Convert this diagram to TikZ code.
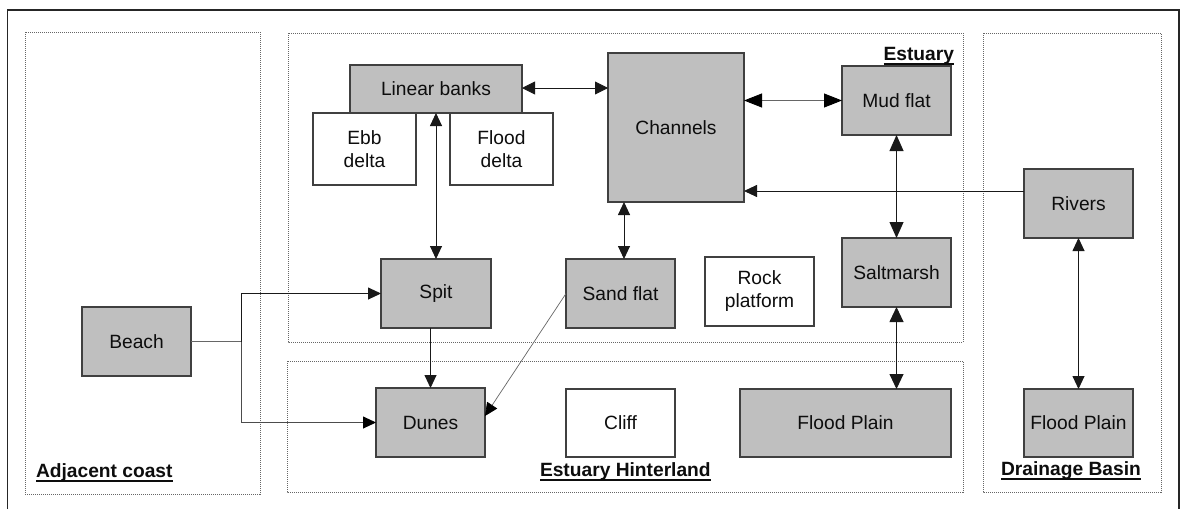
\documentclass[tikz,border=0pt]{standalone}
\usepackage{fontspec}
\setmainfont{Liberation Sans}
\usetikzlibrary{arrows.meta,calc}
\newcommand{\myul}[1]{\setbox0\hbox{\bfseries #1}\rlap{\usebox0}\rule[-5pt]{\wd0}{2pt}}
\begin{document}
\begin{tikzpicture}[x=1pt,y=-1pt,
  every node/.style={font=\fontsize{19.2}{23}\selectfont, text=black!95, inner sep=0pt, outer sep=0pt, align=center},
  gbox/.style={draw=black!75, fill=black!25, line width=1.2pt},
  wbox/.style={draw=black!75, fill=white, line width=1.2pt},
  region/.style={draw=black!60, line width=0.8pt, dash pattern=on 1pt off 1pt},
  >={Triangle[length=13pt,width=12pt]},
  conn/.style={draw=black!90, line width=0.9pt},
  lbl/.style={anchor=base}]
\useasboundingbox (0,0) rectangle (1183,509);
% frame
\draw[line width=1.5pt, black!85] (7.5,509) -- (7.5,10) -- (1179,10) -- (1179,509);
% regions
\draw[region] (25,32) rectangle (260,494);
\draw[region] (288,33) rectangle (963,342);
\draw[region] (287,361) rectangle (963,492);
\draw[region] (983,33) rectangle (1161,492);
% labels
\node[anchor=base east] (lest) at (954,60) {\myul{Estuary}};
\node[anchor=base west] (ladj) at (36,477) {\myul{Adjacent coast}};
\node[anchor=base west] (lhin) at (540,476) {\myul{Estuary Hinterland}};
\node[anchor=base] (ldb) at (1071,475) {\myul{Drainage Basin}};
% boxes
\node[gbox, minimum width=172pt, minimum height=48pt] (lin) at (436,89) {Linear banks};
\node[wbox, minimum width=103pt, minimum height=72pt] (ebb) at (364.5,149) {Ebb\\delta};
\node[wbox, minimum width=103pt, minimum height=72pt] (fld) at (501.5,149) {Flood\\delta};
\node[gbox, minimum width=136pt, minimum height=149pt] (chan) at (676,127.5) {Channels};
\node[gbox, minimum width=109pt, minimum height=69pt] (mud) at (896.5,100.5) {Mud flat};
\node[gbox, minimum width=109pt, minimum height=69pt] (riv) at (1078.5,203.5) {Rivers};
\node[gbox, minimum width=109pt, minimum height=68pt] (fpd) at (1078.5,423) {Flood Plain};
\node[gbox, minimum width=109pt, minimum height=69pt] (beach) at (136.5,341.5) {Beach};
\node[gbox, minimum width=110pt, minimum height=69pt] (spit) at (436,293.5) {Spit};
\node[gbox, minimum width=109pt, minimum height=69pt] (dunes) at (430.5,422.5) {Dunes};
\node[gbox, minimum width=109pt, minimum height=69pt] (sand) at (620.5,293.5) {Sand flat};
\node[wbox, minimum width=109pt, minimum height=69pt] (rock) at (759.5,291.5) {Rock\\platform};
\node[gbox, minimum width=109pt, minimum height=69pt] (salt) at (896.5,272.5) {Saltmarsh};
\node[wbox, minimum width=109pt, minimum height=68pt] (cliff) at (620.5,423) {Cliff};
\node[gbox, minimum width=211pt, minimum height=68pt] (fph) at (845.5,423) {Flood Plain};
% helper coordinates
\coordinate (rv) at ([yshift=12.5pt]riv.west);
\coordinate (sf) at ([xshift=3.5pt]sand.north);
\coordinate (de) at ([yshift=6.5pt]dunes.east);
\coordinate (lb) at ([yshift=1pt]lin.east);
\coordinate (j) at (241,341.5);
% connectors
\draw[conn, {Triangle[length=13pt,width=13pt]}-{Triangle[length=13pt,width=13pt]}] (lb) -- (chan.west |- lb);
\draw[conn, draw=black!60, {Triangle[length=18pt,width=14pt,color=black]}-{Triangle[length=18pt,width=14pt,color=black]}] (chan.east |- mud.west) -- (mud.west);
\draw[conn, ->] (rv) -- (chan.east |- rv);
\draw[conn, {Triangle[length=16pt,width=14pt]}-{Triangle[length=16pt,width=14pt]}] (mud.south) -- (salt.north);
\draw[conn, {Triangle[length=15pt,width=14pt]}-{Triangle[length=15pt,width=14pt]}] (salt.south) -- (salt.south |- fph.north);
\draw[conn, <->] (riv.south) -- (fpd.north);
\draw[conn, <->] (lin.south) -- (spit.north);
\draw[conn, <->] (sf) -- (sf |- chan.south);
\draw[conn, ->] (spit.south -| dunes.north) -- (dunes.north);
\draw[conn, draw=black!60, line width=1.2pt] (beach.east) -- (j);
\draw[conn, ->] (j) |- (spit.west);
\draw[conn, draw=black!70, -{Triangle[length=13pt,width=12pt,color=black]}] (j) |- (dunes.west);
\draw[conn, draw=black!60, line width=0.7pt, -{Triangle[length=13pt,width=12pt,color=black]}] (sand.west) -- (de);
\end{tikzpicture}
\end{document}
